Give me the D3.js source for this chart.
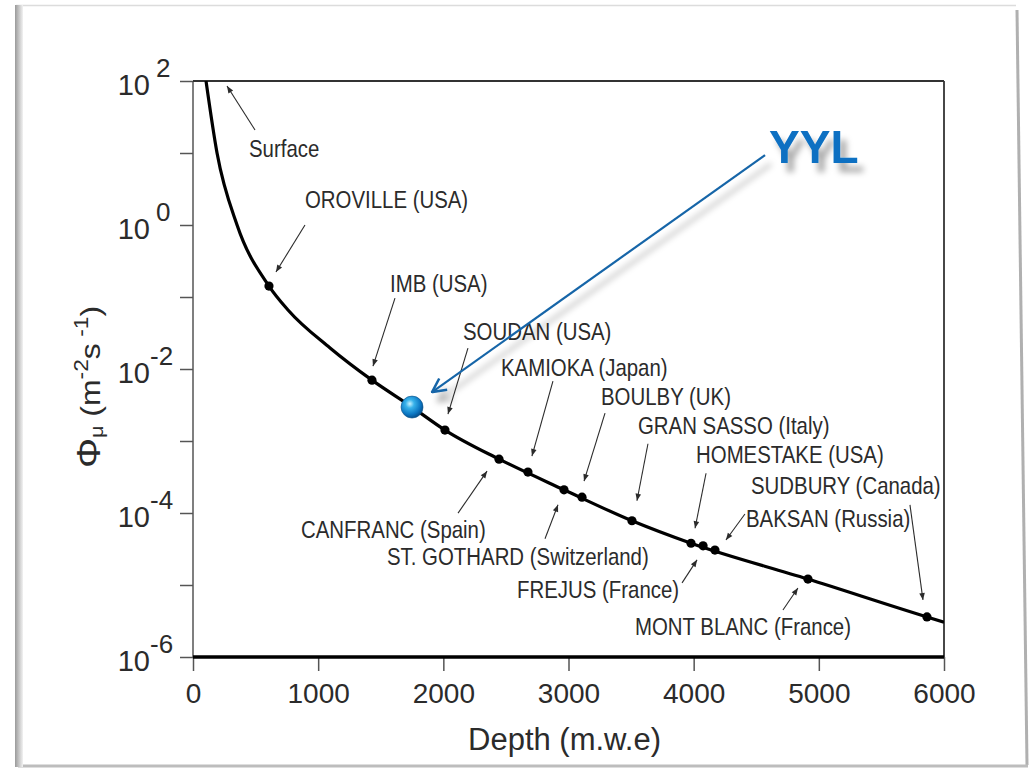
<!DOCTYPE html>
<html>
<head>
<meta charset="utf-8">
<script src="https://cdn.jsdelivr.net/npm/d3@7"></script>
<style>
  html, body { margin: 0; padding: 0; background: #fff; }
  svg { display: block; font-family: "Liberation Sans", Arial, Helvetica, sans-serif; }
</style>
</head>
<body>
<div id="chart"></div>
<script>
// depth-intensity curve (depth in m.w.e, flux in m^-2 s^-1)
const curveDepth = [104, 192, 352, 607, 759, 1095, 1430, 1750, 2013, 2445, 2964, 3507, 3979, 4913, 5864, 6000];
const curveFlux = [100, 10, 1, 0.142, 0.066, 0.0196, 7.0e-3, 2.96e-3, 1.42e-3, 5.6e-4, 2.1e-4, 7.8e-5, 3.8e-5, 1.21e-5, 3.6e-6, 3.05e-6];

// underground laboratories marked on the curve
const labNames = ["OROVILLE (USA)", "IMB (USA)", "SOUDAN (USA)", "KAMIOKA (Japan)", "BOULBY (UK)",
  "GRAN SASSO (Italy)", "HOMESTAKE (USA)", "SUDBURY (Canada)", "BAKSAN (Russia)",
  "CANFRANC (Spain)", "ST. GOTHARD (Switzerland)", "FREJUS (France)", "MONT BLANC (France)"];
const labDepth = [607, 1430, 2013, 2676, 3108, 3507, 3979, 5864, 4170, 2445, 2964, 4075, 4913];
const labFlux = [0.142, 7.0e-3, 1.42e-3, 3.7e-4, 1.66e-4, 7.8e-5, 3.8e-5, 3.6e-6, 3.06e-5, 5.6e-4, 2.1e-4, 3.5e-5, 1.21e-5];

// the new site
const yylName = "YYL";
const yylDepth = 1750;
const yylFlux = 2.96e-3;

// axes
const xTicks = [0, 1000, 2000, 3000, 4000, 5000, 6000];
const yTickExp = [2, 1, 0, -1, -2, -3, -4, -5, -6];
const yLabelExp = [2, 0, -2, -4, -6];

// label placement relative to each marker (pixels): text, arrow start, arrow end
const labLayout = [
  {tx: 36, ty: -78, ax: 36, ay: -61, bx: 7, by: -14},
  {tx: 18, ty: -88, ax: 23, ay: -82, bx: 1, by: -14},
  {tx: 18, ty: -90, ax: 23, ay: -82, bx: 3, by: -16},
  {tx: -27, ty: -96, ax: 25, ay: -91, bx: 4, by: -16},
  {tx: 19, ty: -92, ax: 23, ay: -84, bx: 2, by: -16},
  {tx: 6, ty: -87, ax: 16, ay: -77, bx: 5, by: -20},
  {tx: 5, ty: -80, ax: 15, ay: -70, bx: 4, by: -15},
  {tx: -176, ty: -123, ax: -17, ay: -112, bx: -4, by: -17},
  {tx: 31, ty: -23, ax: 30, ay: -36, bx: 11, by: -10},
  {tx: -198, ty: 79, ax: -41, ay: 54, bx: -12, by: 12},
  {tx: -177, ty: 75, ax: -19, ay: 49, bx: -6, by: 15},
  {tx: -186, ty: 52, ax: -21, ay: 37, bx: -6, by: 14},
  {tx: -173, ty: 56, ax: -25, ay: 31, bx: -10, by: 9}
];

const W = 1032, H = 771;
const plotLeft = 193, plotRight = 944, plotTop = 81, plotBottom = 657;
const ink = "#2b2b2b";

const svg = d3.select("#chart").append("svg")
  .attr("width", W)
  .attr("height", H);

const defs = svg.append("defs");

// slide frame with a soft shadow
const band = defs.append("linearGradient").attr("id", "band");
band.append("stop").attr("offset", "0%").attr("stop-color", "#9a9a9a");
band.append("stop").attr("offset", "100%").attr("stop-color", "#f2f2f2");

const ball = defs.append("radialGradient").attr("id", "ball")
  .attr("cx", "40%").attr("cy", "35%").attr("r", "65%");
ball.append("stop").attr("offset", "0%").attr("stop-color", "#c8f2ff");
ball.append("stop").attr("offset", "30%").attr("stop-color", "#38b2ea");
ball.append("stop").attr("offset", "75%").attr("stop-color", "#0b76c2");
ball.append("stop").attr("offset", "100%").attr("stop-color", "#04508f");

const shadow = defs.append("filter").attr("id", "shadow")
  .attr("x", "-20%").attr("y", "-20%").attr("width", "160%").attr("height", "160%");
shadow.append("feDropShadow")
  .attr("dx", 6).attr("dy", 9).attr("stdDeviation", 3)
  .attr("flood-color", "#000").attr("flood-opacity", 0.35);

defs.append("marker").attr("id", "head")
  .attr("viewBox", "0 0 10 10").attr("refX", 10).attr("refY", 5)
  .attr("markerWidth", 9).attr("markerHeight", 7)
  .attr("markerUnits", "userSpaceOnUse").attr("orient", "auto")
  .append("path").attr("d", "M0,1L10,5L0,9Z").attr("fill", ink);

defs.append("marker").attr("id", "bluehead")
  .attr("viewBox", "0 0 14 14").attr("refX", 13).attr("refY", 7)
  .attr("markerWidth", 16).attr("markerHeight", 16)
  .attr("markerUnits", "userSpaceOnUse").attr("orient", "auto")
  .append("path").attr("d", "M1,1L13,7L1,13")
  .attr("fill", "none").attr("stroke", "#1565a8").attr("stroke-width", 2.2);

defs.append("clipPath").attr("id", "plot")
  .append("rect").attr("x", plotLeft).attr("y", plotTop)
  .attr("width", plotRight - plotLeft).attr("height", plotBottom - plotTop);

svg.append("path")
  .attr("d", "M16,5L1016,5L1028,766L16,766Z")
  .attr("fill", "#fff");
svg.append("line").attr("x1", 16).attr("y1", 5.5).attr("x2", 1016).attr("y2", 5.5)
  .attr("stroke", "#dcdcdc").attr("stroke-width", 1.5);
svg.append("line").attr("x1", 1017).attr("y1", 10).attr("x2", 1027).attr("y2", 765)
  .attr("stroke", "#b0b0b0").attr("stroke-width", 3);
svg.append("line").attr("x1", 18).attr("y1", 766).attr("x2", 1028).attr("y2", 766)
  .attr("stroke", "#bdbdbd").attr("stroke-width", 3);
svg.append("rect").attr("x", 15).attr("y", 5).attr("width", 8).attr("height", 762)
  .attr("fill", "url(#band)");

// scales
const x = d3.scaleLinear().domain([0, 6000]).range([plotLeft, plotRight]);
const y = d3.scaleLog().domain([1e-6, 1e2]).range([plotBottom, plotTop]);

// x axis
const xAxis = svg.append("g")
  .attr("transform", "translate(0," + plotBottom + ")")
  .call(d3.axisBottom(x).tickValues(xTicks).tickSize(14).tickFormat(d3.format("d")));
xAxis.select(".domain").remove();
xAxis.selectAll(".tick line").attr("stroke", "#555").attr("stroke-width", 1.5);
xAxis.selectAll(".tick text")
  .attr("y", 46).attr("dy", 0)
  .attr("fill", ink)
  .style("font-size", "28px");

// y axis, one tick per decade
const yAxis = svg.append("g")
  .attr("transform", "translate(" + plotLeft + ",0)")
  .call(d3.axisLeft(y).tickValues(yTickExp.map(e => Math.pow(10, e))).tickSize(13).tickFormat(""));
yAxis.select(".domain").remove();
yAxis.selectAll(".tick line").attr("stroke", "#555").attr("stroke-width", 1.5);

const yLab = svg.append("g").selectAll("g")
  .data(yLabelExp)
  .enter()
  .append("g")
  .attr("transform", e => "translate(150," + y(Math.pow(10, e)) + ")")
  .attr("fill", ink);
yLab.append("text")
  .attr("text-anchor", "end")
  .attr("y", 14)
  .style("font-size", "29px")
  .text("10");
yLab.append("text")
  .attr("x", e => e < 0 ? 0 : 6)
  .attr("y", -4)
  .style("font-size", "26px")
  .text(e => e < 0 ? "-" + Math.abs(e) : e);

// frame
svg.append("line").attr("x1", plotLeft).attr("y1", plotTop).attr("x2", plotLeft).attr("y2", plotBottom)
  .attr("stroke", "#555").attr("stroke-width", 1.5);
svg.append("line").attr("x1", plotLeft).attr("y1", plotTop).attr("x2", plotRight).attr("y2", plotTop)
  .attr("stroke", "#333").attr("stroke-width", 1.8);
svg.append("line").attr("x1", plotRight).attr("y1", plotTop).attr("x2", plotRight).attr("y2", plotBottom)
  .attr("stroke", "#333").attr("stroke-width", 1.8);
svg.append("line").attr("x1", plotLeft).attr("y1", plotBottom).attr("x2", plotRight).attr("y2", plotBottom)
  .attr("stroke", "#000").attr("stroke-width", 3.5);

// axis titles
svg.append("text")
  .attr("x", (plotLeft + plotRight) / 2 - 4)
  .attr("y", 750)
  .attr("text-anchor", "middle")
  .attr("fill", ink)
  .style("font-size", "31px")
  .text("Depth (m.w.e)");

const yTitle = svg.append("g")
  .attr("transform", "translate(100,468) rotate(-90) scale(1.14,1)")
  .append("text")
  .attr("fill", ink)
  .style("font-size", "28px");
yTitle.append("tspan").style("font-size", "33px").text("Φ");
yTitle.append("tspan").attr("dy", 3).style("font-size", "19px").text("μ");
yTitle.append("tspan").attr("dy", -3).text(" (m");
yTitle.append("tspan").attr("dy", -12).style("font-size", "20px").text("-2");
yTitle.append("tspan").attr("dy", 12).text("s");
yTitle.append("tspan").attr("dy", -12).style("font-size", "20px").text(" -1");
yTitle.append("tspan").attr("dy", 12).text(")");

// flux curve
const line = d3.line()
  .x(d => x(d[0]))
  .y(d => y(d[1]))
  .curve(d3.curveMonotoneX);

svg.append("path")
  .datum(d3.zip(curveDepth, curveFlux))
  .attr("clip-path", "url(#plot)")
  .attr("d", line)
  .attr("fill", "none")
  .attr("stroke", "#000")
  .attr("stroke-width", 3.2);

// lab markers
const labs = labNames.map((name, i) => ({
  name: name,
  px: x(labDepth[i]),
  py: y(labFlux[i]),
  layout: labLayout[i]
}));

svg.append("g").selectAll("circle")
  .data(labs)
  .enter()
  .append("circle")
  .attr("cx", d => d.px)
  .attr("cy", d => d.py)
  .attr("r", 4.6)
  .attr("fill", "#000");

// lab labels and arrows
const labelFont = 24;
const squeeze = 0.85;

function addLabel(text, tx, ty) {
  svg.append("g")
    .attr("transform", "translate(" + tx + "," + ty + ") scale(" + squeeze + ",1)")
    .append("text")
    .attr("fill", ink)
    .style("font-size", labelFont + "px")
    .text(text);
}

function addArrow(x1, y1, x2, y2) {
  svg.append("line")
    .attr("x1", x1).attr("y1", y1)
    .attr("x2", x2).attr("y2", y2)
    .attr("stroke", ink)
    .attr("stroke-width", 1.1)
    .attr("marker-end", "url(#head)");
}

labs.forEach(d => {
  const l = d.layout;
  addLabel(d.name, d.px + l.tx, d.py + l.ty);
  addArrow(d.px + l.ax, d.py + l.ay, d.px + l.bx, d.py + l.by);
});

// "Surface" points at the top of the curve
const sx = x(curveDepth[0]), sy = y(curveFlux[0]);
addLabel("Surface", sx + 43, sy + 76);
addArrow(sx + 49, sy + 49, sx + 21, sy + 5);

// YYL site: sphere, blue arrow and label
const bx = x(yylDepth), by = y(yylFlux);

svg.append("line")
  .attr("x1", bx + 353).attr("y1", by - 252)
  .attr("x2", bx + 20).attr("y2", by - 15)
  .attr("stroke", "#1565a8")
  .attr("stroke-width", 2.2)
  .attr("marker-end", "url(#bluehead)")
  .attr("filter", "url(#shadow)");

svg.append("text")
  .attr("x", bx + 357)
  .attr("y", by - 244)
  .attr("fill", "#0a6fc2")
  .attr("filter", "url(#shadow)")
  .style("font-size", "46px")
  .style("font-weight", "bold")
  .text(yylName);

svg.append("circle")
  .attr("cx", bx)
  .attr("cy", by)
  .attr("r", 11)
  .attr("fill", "url(#ball)")
  .attr("stroke", "#0a4f85")
  .attr("stroke-width", 0.6);
</script>
</body>
</html>
